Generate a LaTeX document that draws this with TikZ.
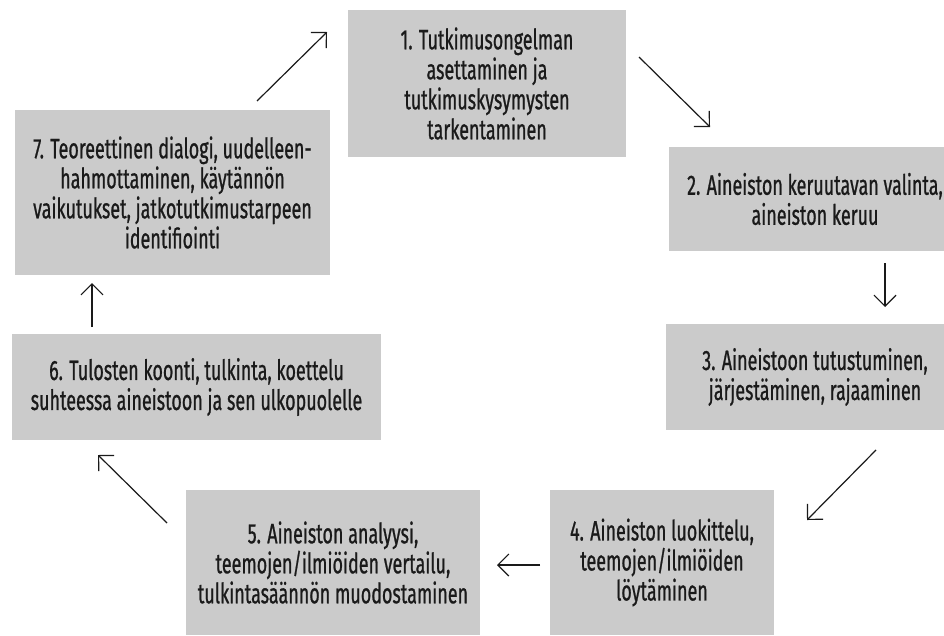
\documentclass[tikz,border=0pt]{standalone}
\usepackage{fontspec}
\setmainfont{Fira Sans}[FakeStretch=0.64,FakeBold=0.8]
\usetikzlibrary{arrows.meta}
\definecolor{boxgray}{HTML}{CBCBCB}
\definecolor{txt}{HTML}{1A1A1A}
\begin{document}
\begin{tikzpicture}[x=1pt,y=-1pt,
  stagebox/.style={fill=boxgray,draw=none,inner sep=0pt,align=center,text=txt,
    font=\fontsize{28}{30}\selectfont},
  flowarrow/.style={draw=txt,line width=1.2pt,-{Straight Barb[length=11pt,width=22pt,line width=1.2pt]}}]
\useasboundingbox (0,0) rectangle (944,635);
\fill[white] (0,0) rectangle (944,635);
\node[stagebox,minimum width=278pt,minimum height=147pt] (b1) at (487,83.5)
  {1. Tutkimusongelman\\asettaminen ja\\tutkimuskysymysten\\tarkentaminen};
\node[stagebox,minimum width=292pt,minimum height=104pt] (b2) at (815,199)
  {2. Aineiston keruutavan valinta,\\aineiston keruu};
\node[stagebox,minimum width=298pt,minimum height=106pt] (b3) at (815,377)
  {3. Aineistoon tutustuminen,\\järjestäminen, rajaaminen};
\node[stagebox,minimum width=224pt,minimum height=145pt] (b4) at (662,562.5)
  {4. Aineiston luokittelu,\\teemojen/ilmiöiden\\löytäminen};
\node[stagebox,minimum width=294pt,minimum height=145pt] (b5) at (333,562.5)
  {5. Aineiston analyysi,\\teemojen/ilmiöiden vertailu,\\tulkintasäännön muodostaminen};
\node[stagebox,minimum width=369pt,minimum height=106pt] (b6) at (196.5,387)
  {6. Tulosten koonti, tulkinta, koettelu\\suhteessa aineistoon ja sen ulkopuolelle};
\node[stagebox,minimum width=315pt,minimum height=165pt] (b7) at (172.5,192.5)
  {7. Teoreettinen dialogi, uudelleen-\\hahmottaminen, käytännön\\vaikutukset, jatkotutkimustarpeen\\identifiointi};
\coordinate (a71) at (257,101); \coordinate (a72) at (327,32);
\coordinate (a11) at (639,57);  \coordinate (a12) at (710,127);
\coordinate (a21) at (885,263); \coordinate (a22) at (885,307);
\coordinate (a31) at (876,450); \coordinate (a32) at (807,520);
\coordinate (a41) at (540,565); \coordinate (a42) at (497,565);
\coordinate (a51) at (167,523); \coordinate (a52) at (98,455);
\coordinate (a61) at (92,327);  \coordinate (a62) at (92,283);
\draw[flowarrow] (a71) -- (a72);
\draw[flowarrow] (a11) -- (a12);
\draw[flowarrow] (a21) -- (a22);
\draw[flowarrow] (a31) -- (a32);
\draw[flowarrow] (a41) -- (a42);
\draw[flowarrow] (a51) -- (a52);
\draw[flowarrow] (a61) -- (a62);
\end{tikzpicture}
\end{document}
